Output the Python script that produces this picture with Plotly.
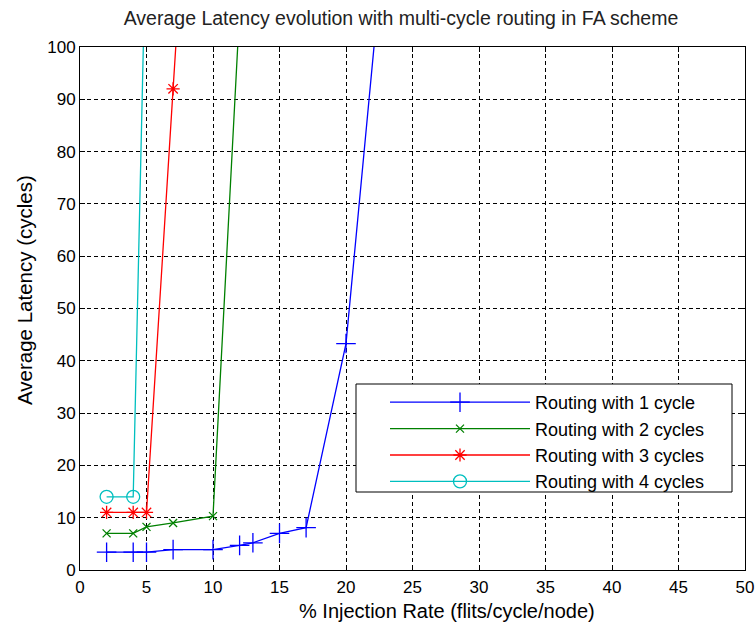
import plotly.graph_objects as go

# Data
rate_1 = [2, 4, 5, 7, 10, 12, 13, 15, 17, 20, 25]
lat_1 = [3.4, 3.4, 3.4, 3.9, 3.9, 4.7, 5.2, 7.0, 8.1, 43.3, 178]

rate_2 = [2, 4, 5, 7, 10, 12]
lat_2 = [7.0, 7.0, 8.25, 9.0, 10.3, 107]

rate_3 = [2, 4, 5, 7, 8]
lat_3 = [11, 11, 11, 92, 132]

rate_4 = [2, 4, 5]
lat_4 = [14, 14, 127]

names = ["Routing with 1 cycle", "Routing with 2 cycles",
         "Routing with 3 cycles", "Routing with 4 cycles"]
colors = ["#0000FF", "#008000", "#FF0000", "#00BFBF"]
symbols = ["cross-thin-open", "x-thin-open", "asterisk-open", "circle-open"]
msizes = [14, 8, 11, 13]

x_ticks = list(range(0, 51, 5))
y_ticks = list(range(0, 101, 10))

FONT = "Liberation Sans, Arial, sans-serif"

fig = go.Figure()
for xs, ys, nm, c, s, ms in zip([rate_1, rate_2, rate_3, rate_4],
                                [lat_1, lat_2, lat_3, lat_4],
                                names, colors, symbols, msizes):
    fig.add_trace(go.Scatter(
        x=xs, y=ys, name=nm, mode="lines+markers",
        line=dict(color=c, width=1.3),
        marker=dict(symbol=s, size=ms, color=c, line=dict(color=c, width=1.3)),
    ))

W, H = 756, 630
L, R, T, B = 80, 11, 47, 60
pw, ph = W - L - R, H - T - B

axis_common = dict(
    showline=True, linecolor="black", linewidth=1, mirror="ticks",
    ticks="inside", ticklen=5, tickcolor="black", tickwidth=1,
    showgrid=True, gridcolor="black", gridwidth=1, griddash="4px,3px",
    zeroline=False, automargin=False,
    tickfont=dict(family=FONT, size=17, color="black"),
)

# legend frame (pixel positions inside the plotting area)
box_l, box_r, box_t, box_b = 356, 732, 384, 492

fig.update_layout(
    width=W, height=H,
    margin=dict(l=L, r=R, t=T, b=B, autoexpand=False),
    paper_bgcolor="white", plot_bgcolor="white",
    font=dict(family=FONT, color="black"),
    title=dict(text="Average Latency evolution with multi-cycle routing in FA scheme",
               font=dict(family=FONT, size=19.5, color="#222222"),
               xref="paper", x=(401 - L) / pw, xanchor="center",
               yref="container", y=1 - 18 / H, yanchor="middle"),
    xaxis=dict(range=[0, 50], tickvals=x_ticks, ticktext=[str(v) for v in x_ticks],
               ticklabelstandoff=2, **axis_common),
    yaxis=dict(range=[0, 100], tickvals=y_ticks, ticktext=[str(v) for v in y_ticks],
               **axis_common),
    showlegend=True,
    legend=dict(x=(385 - L) / pw, y=(H - B - box_t) / ph, xanchor="left", yanchor="top",
                borderwidth=0, bgcolor="rgba(0,0,0,0)",
                font=dict(family=FONT, size=18, color="black"),
                itemwidth=140, tracegroupgap=0),
    shapes=[dict(type="rect", xref="paper", yref="paper",
                 x0=(box_l - L) / pw, x1=(box_r - L) / pw,
                 y0=(H - B - box_b) / ph, y1=(H - B - box_t) / ph,
                 line=dict(color="black", width=1), fillcolor="white", layer="above")],
    annotations=[
        dict(text="% Injection Rate (flits/cycle/node)", xref="paper", yref="paper",
             x=(447 - L) / pw, y=(H - B - 611) / ph, xanchor="center", yanchor="middle",
             showarrow=False, font=dict(family=FONT, size=20, color="black")),
        dict(text="Average Latency (cycles)", xref="paper", yref="paper",
             x=(24 - L) / pw, y=(H - B - 290) / ph, xanchor="center", yanchor="middle",
             textangle=-90, showarrow=False, font=dict(family=FONT, size=20.5, color="black")),
    ],
)

fig.write_html("out.html")
